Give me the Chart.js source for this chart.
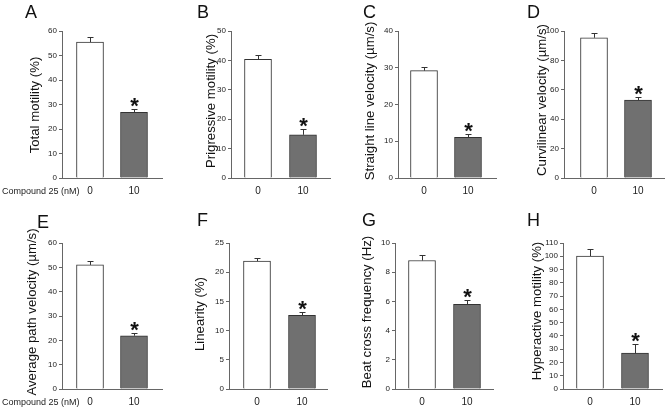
<!DOCTYPE html>
<html>
<head>
<meta charset="utf-8">
<script src="https://cdn.jsdelivr.net/npm/chart.js@4"></script>
<style>
  body { margin: 0; background: #fff; width: 666px; height: 408px; position: relative; overflow: hidden;
         font-family: "Liberation Sans", Arial, sans-serif; }
  .panel { position: absolute; }
  .letter { position: absolute; font-size: 18px; line-height: 18px; color: #111; }
  .xlab { position: absolute; font-size: 9px; line-height: 10px; color: #222; white-space: nowrap; }
</style>
</head>
<body>
<script>
// data
var doses = ['0', '10'];
var letters = ['A', 'B', 'C', 'D', 'E', 'F', 'G', 'H'];
var yTitles = ['Total motility (%)', 'Prigressive motility (%)', 'Straight line velocity (\u00b5m/s)',
  'Curvilinear velocity (\u00b5m/s)', 'Average path velocity (\u00b5m/s)', 'Linearity (%)',
  'Beat cross frequency (Hz)', 'Hyperactive motility (%)'];
var controlMean = [55.5, 40.4, 29.2, 95.4, 51.0, 21.9, 8.8, 100.2];
var controlSem = [1.9, 1.6, 1.0, 3.0, 1.5, 0.6, 0.4, 5.5];
var treatedMean = [26.8, 14.7, 11.1, 53.0, 21.9, 12.6, 5.8, 27.0];
var treatedSem = [1.4, 1.9, 1.0, 2.2, 1.3, 0.6, 0.3, 7.0];
var significant = [false, true];
var yMax = [60, 50, 40, 100, 60, 25, 10, 110];
var yStep = [10, 10, 10, 20, 10, 5, 2, 10];

// panel geometry (page pixels)
var colLeft = [0, 166, 332, 498];
var colWidth = [166, 166, 166, 168];
var rowTop = [0, 204];
var rowHeight = 204;
var panels = [
  { axisX: 62,  axisEnd: 162, topY: 31,  zeroY: 178, c0: 90,  c1: 134, titleX: 35,  titleY: 105, lx: 25,  ly: 5 },
  { axisX: 231, axisEnd: 330, topY: 31,  zeroY: 178, c0: 258, c1: 303, titleX: 211, titleY: 101, lx: 197, ly: 5 },
  { axisX: 398, axisEnd: 496, topY: 31,  zeroY: 178, c0: 424, c1: 468, titleX: 370, titleY: 101, lx: 363, ly: 5 },
  { axisX: 564, axisEnd: 664, topY: 31,  zeroY: 178, c0: 594, c1: 638, titleX: 542, titleY: 100, lx: 527, ly: 5 },
  { axisX: 62,  axisEnd: 162, topY: 243, zeroY: 389, c0: 90,  c1: 134, titleX: 32,  titleY: 312, lx: 37,  ly: 215 },
  { axisX: 229, axisEnd: 327, topY: 243, zeroY: 389, c0: 257, c1: 302, titleX: 200, titleY: 314, lx: 197, ly: 213 },
  { axisX: 395, axisEnd: 493, topY: 243, zeroY: 389, c0: 422, c1: 467, titleX: 367, titleY: 312, lx: 362, ly: 213 },
  { axisX: 563, axisEnd: 662, topY: 243, zeroY: 389, c0: 590, c1: 635, titleX: 537, titleY: 311, lx: 527, ly: 213 }
];

var errorBars = {
  id: 'errorBars',
  afterDatasetsDraw: function(chart) {
    var ctx = chart.ctx;
    var ys = chart.scales.y;
    var ds = chart.data.datasets[0];
    var meta = chart.getDatasetMeta(0);
    ctx.save();
    ctx.strokeStyle = '#333';
    ctx.lineWidth = 1;
    meta.data.forEach(function(bar, k) {
      var x = Math.round(bar.x) + 0.5;
      var top = Math.round(ys.getPixelForValue(ds.data[k].y + ds.sem[k])) + 0.5;
      ctx.beginPath();
      ctx.moveTo(x, bar.y);
      ctx.lineTo(x, top);
      ctx.moveTo(x - 3, top);
      ctx.lineTo(x + 3, top);
      ctx.stroke();
      if (significant[k]) {
        ctx.font = 'bold 22px "Liberation Sans", Arial, sans-serif';
        ctx.fillStyle = '#111';
        ctx.textAlign = 'center';
        ctx.textBaseline = 'alphabetic';
        ctx.fillText('*', x, top + 3);
      }
    });
    ctx.restore();
  }
};

// rotated y title, placed like the original figure
var yTitle = {
  id: 'yTitle',
  afterDraw: function(chart, args, opts) {
    var ctx = chart.ctx;
    ctx.save();
    ctx.translate(opts.x, opts.y);
    ctx.rotate(-Math.PI / 2);
    ctx.font = '13.2px "Liberation Sans", Arial, sans-serif';
    ctx.fillStyle = '#111';
    ctx.textAlign = 'center';
    ctx.textBaseline = 'middle';
    ctx.fillText(opts.text, 0, 0);
    ctx.restore();
  }
};

panels.forEach(function(p, i) {
  var col = i % 4, row = Math.floor(i / 4);
  var left = colLeft[col], top = rowTop[row], w = colWidth[col], h = rowHeight;

  var wrap = document.createElement('div');
  wrap.className = 'panel';
  wrap.style.left = left + 'px';
  wrap.style.top = top + 'px';
  var cv = document.createElement('canvas');
  cv.width = w;
  cv.height = h;
  wrap.appendChild(cv);
  document.body.appendChild(wrap);

  var letter = document.createElement('div');
  letter.className = 'letter';
  letter.textContent = letters[i];
  letter.style.left = p.lx + 'px';
  letter.style.top = (p.ly - 2) + 'px';
  document.body.appendChild(letter);

  var spacing = p.c1 - p.c0;
  var xMin = -(p.c0 - p.axisX) / spacing;
  var xMax = 1 + (p.axisEnd - p.c1) / spacing;

  new Chart(cv, {
    type: 'bar',
    data: {
      datasets: [{
        data: doses.map(function(d, k) { return { x: k, y: k ? treatedMean[i] : controlMean[i] }; }),
        sem: [controlSem[i], treatedSem[i]],
        backgroundColor: ['#ffffff', '#707070'],
        borderColor: '#333',
        borderWidth: 1,
        barThickness: 27
      }]
    },
    options: {
      responsive: false,
      animation: false,
      layout: {
        padding: { left: 0, top: p.topY - top, right: left + w - p.axisEnd, bottom: 0 }
      },
      plugins: {
        legend: { display: false },
        tooltip: { enabled: false },
        yTitle: { text: yTitles[i], x: p.titleX - left, y: p.titleY - top }
      },
      scales: {
        x: {
          type: 'linear',
          offset: false,
          min: xMin,
          max: xMax,
          grid: { display: false, drawTicks: false },
          border: { color: '#666' },
          afterBuildTicks: function(s) {
            s.ticks = doses.map(function(d, k) { return { value: k }; });
          },
          ticks: {
            callback: function(v) { return doses[v]; },
            font: { size: 10 },
            color: '#222',
            padding: 7,
            maxRotation: 0,
            autoSkip: false
          },
          afterFit: function(s) { s.height = top + h - p.zeroY; }
        },
        y: {
          min: 0,
          max: yMax[i],
          ticks: { stepSize: yStep[i], font: { size: 8 }, color: '#222', padding: 2 },
          grid: { drawOnChartArea: false, drawTicks: true, tickLength: 3, color: '#666' },
          border: { color: '#666' },
          afterFit: function(s) { s.width = p.axisX - left; }
        }
      }
    },
    plugins: [errorBars, yTitle]
  });
});

// x-axis caption on the left column
[191, 402].forEach(function(y) {
  var lab = document.createElement('div');
  lab.className = 'xlab';
  lab.textContent = 'Compound 25 (nM)';
  lab.style.left = '2px';
  lab.style.top = (y - 5) + 'px';
  document.body.appendChild(lab);
});
</script>
</body>
</html>
